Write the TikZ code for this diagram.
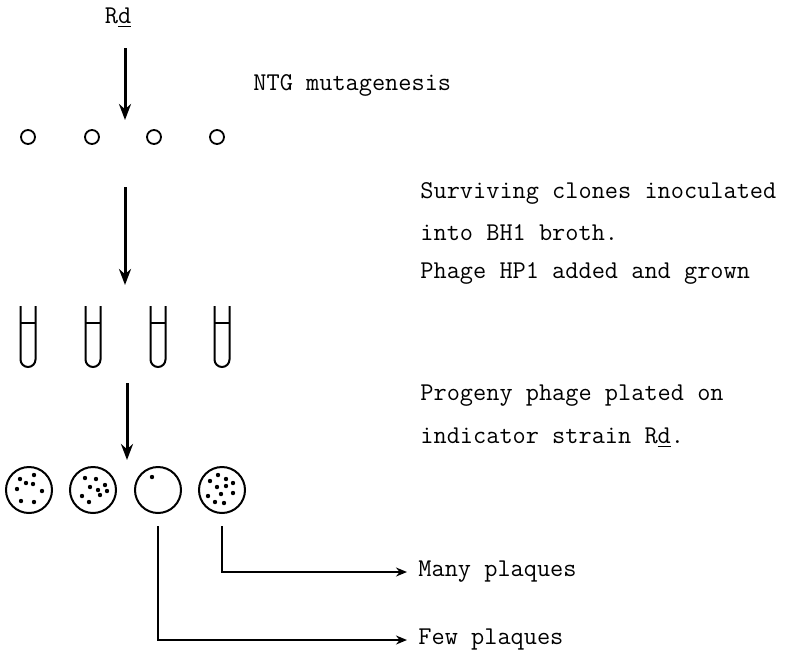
\documentclass[tikz,border=0pt]{standalone}
\usetikzlibrary{arrows.meta}
\begin{document}
\begin{tikzpicture}[
    x=0.5pt, y=-0.5pt,
    lbl/.style={font=\fontsize{12.8}{15}\selectfont\ttfamily, anchor=west, inner sep=0pt},
    flow/.style={-{Stealth[length=8pt,width=6pt]}, line width=1.5pt},
    lead/.style={-{Stealth[length=5.5pt,width=4.5pt]}, line width=0.8pt},
    clone/.style={circle, draw, line width=0.9pt, minimum size=7pt, inner sep=0pt},
    plate/.style={circle, draw, line width=1pt, minimum size=23pt, inner sep=0pt}
]
\useasboundingbox (0,0) rectangle (789,655);
% strain and steps
\node[lbl, anchor=center] (rd) at (118,18) {R\underline{d}};
\node[lbl] (ntg) at (253,85) {NTG mutagenesis};
\node[lbl] (surv) at (420,193) {Surviving clones inoculated};
\node[lbl] (bhi)  at (420,233) {into BH1 broth.};
\node[lbl] (hp1)  at (420,273) {Phage HP1 added and grown};
\node[lbl] (prog) at (420,396) {Progeny phage plated on};
\node[lbl] (ind)  at (420,438) {indicator strain R\underline{d}.};
% clones
\foreach \x/\n in {28/1,92/2,154/3,217/4}
    \node[clone] (c\n) at (\x,137) {};
% tubes
\foreach \x in {28,93,158,222} {
    \draw[line width=1pt] (\x-7.5,306) -- (\x-7.5,359.5) arc (180:0:7.5) -- (\x+7.5,306);
    \draw[line width=0.8pt] (\x-7.5,323) -- (\x+7.5,323);
}
% plates
\foreach \x/\n in {29/1,93/2,158/3,222/4}
    \node[plate] (p\n) at (\x,490) {};
\foreach \dx/\dy in {-9/-11,5/-15,-3/-7,4/-6,-12/-1,13/1,-8/11,5/12}
    \fill (p1) ++(\dx,\dy) circle[radius=1.1pt];
\foreach \dx/\dy in {-8/-12,3/-11,-3/-3,12/-5,5/0,14/1,7/5,-11/6,-4/12}
    \fill (p2) ++(\dx,\dy) circle[radius=1.1pt];
\fill (p3) ++(-6,-13) circle[radius=1.1pt];
\foreach \dx/\dy in {-12/-9,-4/-15,4/-11,11/-7,-5/-3,4/-4,-14/6,-1/4,11/3,-7/12,2/13}
    \fill (p4) ++(\dx,\dy) circle[radius=1.1pt];
% arrows
\coordinate (a1) at (125,48);  \coordinate (b1) at (125,120);
\coordinate (a2) at (125,187); \coordinate (b2) at (125,285);
\coordinate (a3) at (127,383); \coordinate (b3) at (127,460);
\draw[flow] (a1) -- (b1);
\draw[flow] (a2) -- (b2);
\draw[flow] (a3) -- (b3);
% results
\node[lbl] (many) at (418,572) {Many plaques};
\node[lbl] (few)  at (418,640) {Few plaques};
\draw[lead, shorten >=5.5pt] ([yshift=-6pt]p4.south) |- (many.west);
\draw[lead, shorten >=5.5pt] ([yshift=-6pt]p3.south) |- (few.west);
\end{tikzpicture}
\end{document}
